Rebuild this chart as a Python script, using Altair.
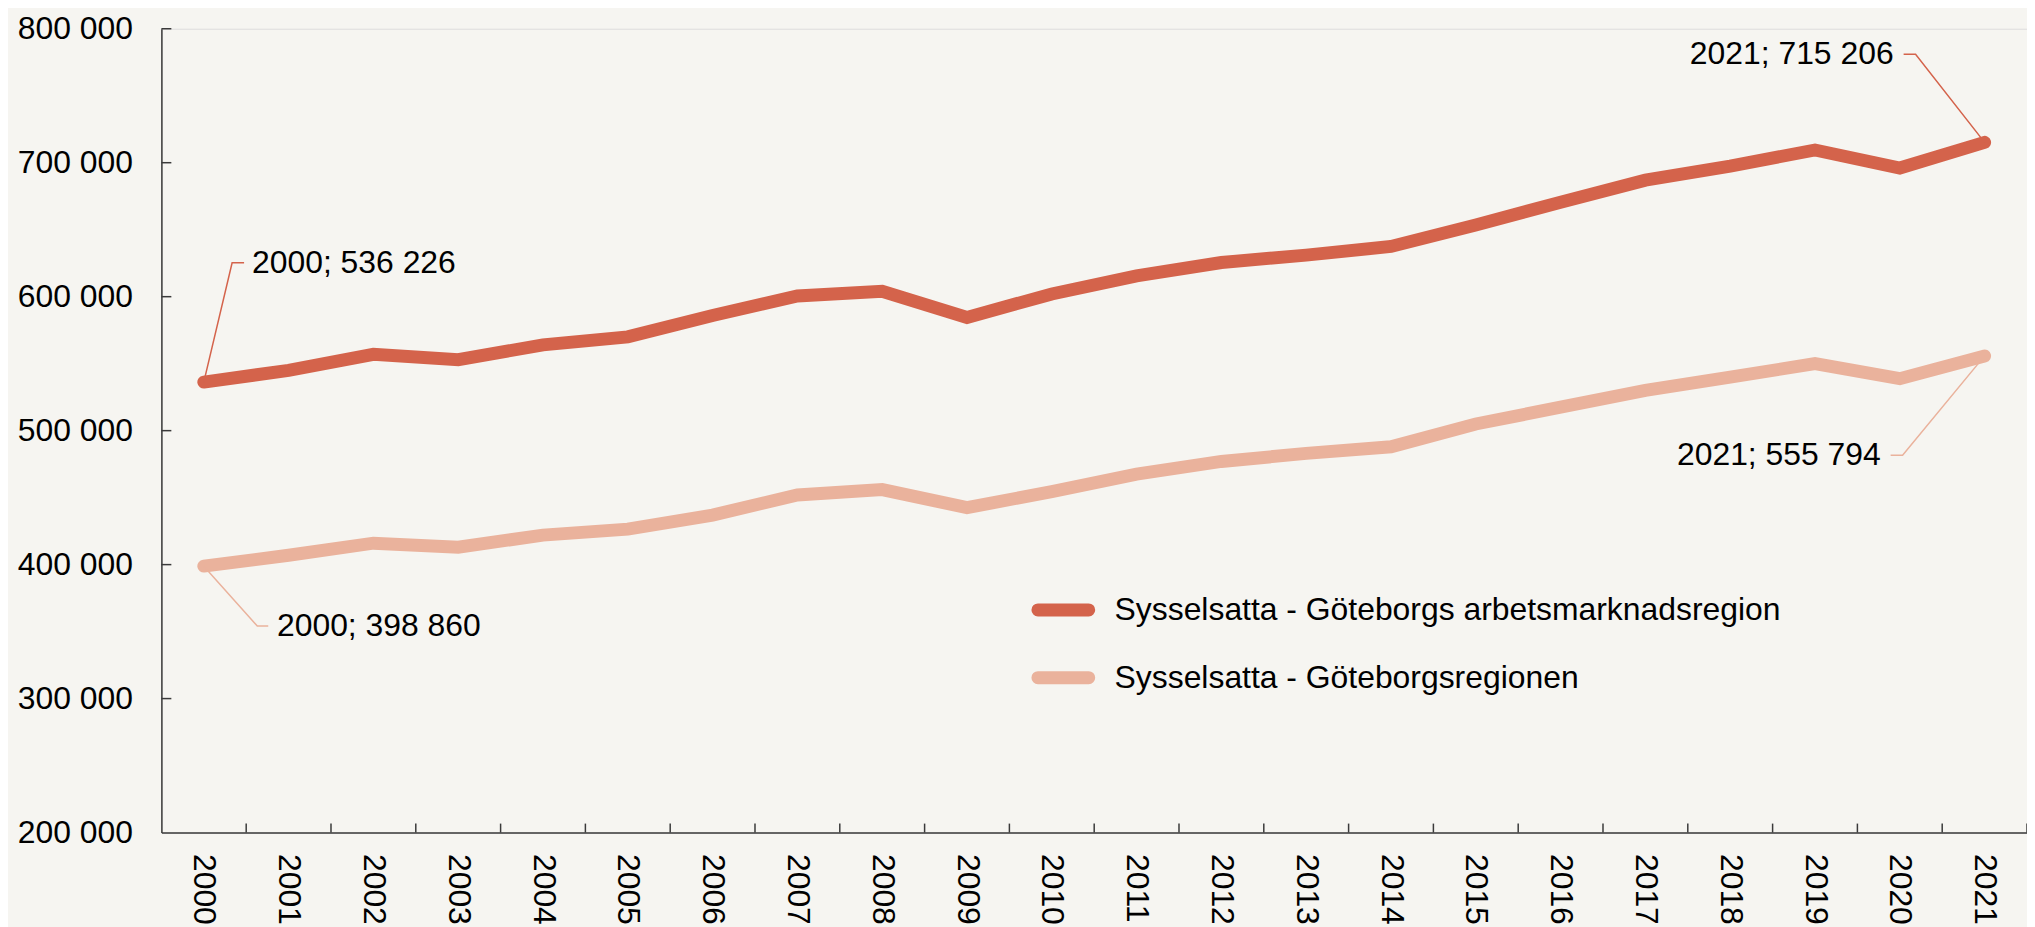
import altair as alt
import pandas as pd

# ---------------- data ----------------
years = list(range(2000, 2022))
arbetsmarknadsregion = [536226, 545000, 557000, 553000, 564000, 570000, 586000, 600500,
                        604000, 584500, 602000, 615500, 625500, 631000, 637500, 653500,
                        670500, 687000, 697500, 709500, 696000, 715206]
goteborgsregionen = [398860, 407000, 416000, 413000, 422000, 426500, 437000, 452000,
                     456000, 442500, 454500, 467500, 477000, 483000, 488000, 505000,
                     517500, 530000, 540000, 550000, 538800, 555794]
series_names = ["Sysselsatta - Göteborgs arbetsmarknadsregion",
                "Sysselsatta - Göteborgsregionen"]
series_colors = ["#D4634B", "#EAB29C"]

y_tick_values = [200000, 300000, 400000, 500000, 600000, 700000, 800000]
x_tick_values = [y + 0.5 for y in years]          # category boundaries

# annotations: which series, which year index, leader-line bend, end and text positions (data units)
ann_series = [0, 1, 0, 1]
ann_index = [0, 0, 21, 21]
ann_bend_x = [2000.334, 2000.631, 2020.186, 2020.033]
ann_bend_y = [625300, 354100, 781000, 481600]
ann_end_x = [2000.475, 2000.760, 2020.045, 2019.892]
ann_text_x = [2000.569, 2000.863, 2019.927, 2019.775]
ann_align = ["left", "left", "right", "right"]

FONT = "Liberation Sans"
AXIS_COLOR = "#3a3a3a"
BG = "#F6F5F1"

# ---------------- tables ----------------
series_values = [arbetsmarknadsregion, goteborgsregionen]
rows = []
for s, vals in zip(series_names, series_values):
    for yr, v in zip(years, vals):
        rows.append({"x": yr, "y": v, "series": s})
lines_df = pd.DataFrame(rows)

leader_rows, text_rows = [], []
for i in range(len(ann_series)):
    s = series_names[ann_series[i]]
    yr = years[ann_index[i]]
    v = series_values[ann_series[i]][ann_index[i]]
    leader_rows += [
        {"id": i, "o": 0, "x": yr, "y": v, "series": s},
        {"id": i, "o": 1, "x": ann_bend_x[i], "y": ann_bend_y[i], "series": s},
        {"id": i, "o": 2, "x": ann_end_x[i], "y": ann_bend_y[i], "series": s},
    ]
    text_rows.append({"x": ann_text_x[i], "y": ann_bend_y[i], "align": ann_align[i],
                      "label": f"{yr}; " + f"{v:,}".replace(",", " ")})
leader_df = pd.DataFrame(leader_rows)
text_df = pd.DataFrame(text_rows)
ytick_df = pd.DataFrame({"y": y_tick_values[1:]})
xtick_df = pd.DataFrame({"x": x_tick_values})

# ---------------- scales ----------------
x_scale = alt.Scale(domain=[1999.5, 2021.5], nice=False, zero=False)
y_scale = alt.Scale(domain=[200000, 800000], nice=False, zero=False)
color_scale = alt.Scale(domain=series_names, range=series_colors)

capsule = ("M -0.797 -0.1016 L 0.797 -0.1016 A 0.1016 0.1016 0 0 1 0.797 0.1016 "
           "L -0.797 0.1016 A 0.1016 0.1016 0 0 1 -0.797 -0.1016 Z")

legend = alt.Legend(
    orient="none", legendX=870, legendY=548, title=None,
    symbolType=capsule, symbolSize=4096, symbolStrokeWidth=6.5,
    labelFont=FONT, labelFontSize=32, labelColor="black", labelOffset=16,
    rowPadding=16, padding=0, labelLimit=1000,
)

x_axis = alt.Axis(values=years, format="d", labelAngle=90, ticks=False,
                  grid=False, labelPadding=21, labelFontSize=32, labelFont=FONT,
                  labelColor="black", title=None, labelFlush=False, labelOverlap=False,
                  labelAlign="left", labelBaseline="middle",
                  domainColor=AXIS_COLOR, domainWidth=1.5)
y_axis = alt.Axis(values=y_tick_values, labelExpr="format(datum.value/1000,'d') + ' 000'",
                  ticks=False, grid=False, labelPadding=29, labelFontSize=32,
                  labelFont=FONT, labelColor="black", title=None, labelFlush=False,
                  domainColor=AXIS_COLOR, domainWidth=1.5)

X = alt.X("x:Q", scale=x_scale, axis=x_axis)
Y = alt.Y("y:Q", scale=y_scale, axis=y_axis)

main = alt.Chart(lines_df).mark_line(strokeWidth=13, strokeCap="round").encode(
    x=X, y=Y,
    color=alt.Color("series:N", scale=color_scale, legend=legend, sort=series_names),
)

leaders = alt.Chart(leader_df).mark_line(strokeWidth=1.5).encode(
    x=X, y=Y,
    color=alt.Color("series:N", scale=color_scale, legend=legend, sort=series_names),
    detail="id:N",
    order="o:Q",
)

text_left = alt.Chart(text_df).transform_filter("datum.align == 'left'").mark_text(
    align="left", baseline="middle", fontSize=32, font=FONT, color="black"
).encode(x=X, y=Y, text="label:N")
text_right = alt.Chart(text_df).transform_filter("datum.align == 'right'").mark_text(
    align="right", baseline="middle", fontSize=32, font=FONT, color="black"
).encode(x=X, y=Y, text="label:N")

yticks = alt.Chart(ytick_df).mark_rule(color=AXIS_COLOR, strokeWidth=1.5).encode(
    y=Y, x=alt.value(0), x2=alt.value(10),
)
xticks = alt.Chart(xtick_df).mark_rule(color=AXIS_COLOR, strokeWidth=1.5).encode(
    x=X, y=alt.value(807), y2=alt.value(798),
)

chart = alt.layer(main, leaders, text_left, text_right, yticks, xticks).properties(
    width=1873, height=807,
    autosize=alt.AutoSizeParams(type="none"),
    padding={"left": 154, "top": 19, "right": 0, "bottom": 93},
    background=BG,
    usermeta={"embedOptions": {"defaultStyle": "body { background: " + BG + "; }"}},
).configure_view(stroke=None).configure(font=FONT)

chart.save("out.html", embed_options={"renderer": "svg", "actions": False})
